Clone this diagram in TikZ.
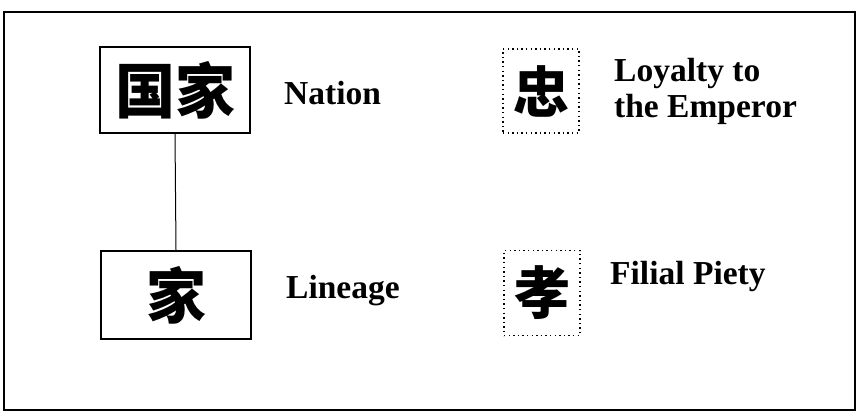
\documentclass[tikz,border=0pt]{standalone}
\usepackage{fontspec}
\setmainfont{Liberation Serif}
\newfontfamily\cjk{Noto Sans CJK SC}
\tikzset{
  solidbox/.style={draw, line width=2pt, inner sep=0pt, font=\cjk\bfseries\fontsize{60}{62}\selectfont},
  dotbox/.style={draw, line width=1.6pt, dash pattern=on 1.4pt off 3.2pt, inner sep=0pt, font=\cjk\bfseries\fontsize{56}{58}\selectfont},
  lbl/.style={anchor=base west, inner sep=0pt, font=\bfseries\fontsize{33.5}{36}\selectfont, align=left},
}
\begin{document}
\begin{tikzpicture}[x=1pt,y=-1pt]
\useasboundingbox (0,0) rectangle (858,412);
\draw[line width=1.3pt] (4,12) rectangle (855,410);
\draw[line width=2.5pt] (4,12) -- (4,410);
\node[solidbox, minimum width=150pt, minimum height=86pt] (nation) at (175,90) {国家};
\node[solidbox, minimum width=150pt, minimum height=88pt] (lineage) at (176,295) {家};
\draw[line width=1pt] (nation.south) -- (lineage.north);
\node[lbl] (tn) at (284,104) {Nation};
\node[lbl] (tl) at (286,298) {Lineage};
\node[dotbox, minimum width=76pt, minimum height=84pt] (zhong) at (541,91) {忠};
\node[dotbox, minimum width=76pt, minimum height=85pt] (xiao) at (542,293) {孝};
\node[lbl] (tz) at (614,117) {Loyalty to\\the Emperor};
\node[lbl] (tx) at (610,284) {Filial Piety};
\end{tikzpicture}
\end{document}
